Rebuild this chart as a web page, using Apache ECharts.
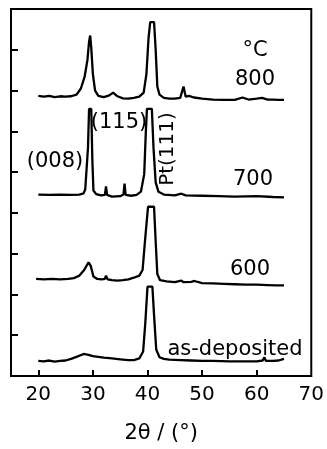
<!DOCTYPE html>
<html>
<head>
<meta charset="utf-8">
<script src="https://cdn.jsdelivr.net/npm/echarts@6/dist/echarts.min.js"></script>
<style>
html,body{margin:0;padding:0;background:#fff;}
#chart{width:327px;height:449px;}
</style>
</head>
<body>
<div id="chart"></div>
<script>
// X-ray diffraction patterns: [2θ (deg), offset intensity (arb. units)]
const curveAsDeposited = [
  [20,0.37],[21,0.36],[22,0.38],[23,0.35],[24,0.37],[25,0.38],[26,0.42],[27,0.47],[28.3,0.54],[29.2,0.52],
  [30,0.49],[31,0.47],[32,0.45],[33.5,0.43],[35,0.41],[36.5,0.39],[37.5,0.39],[38.5,0.43],[39.2,0.6],[39.6,1.3],
  [40.0,2.19],[40.9,2.19],[41.2,1.5],[41.6,0.65],[42.2,0.46],[43,0.42],[44,0.4],[46,0.39],[48,0.38],[50,0.37],
  [52,0.37],[55,0.36],[58,0.36],[60,0.36],[61.1,0.38],[61.4,0.46],[61.7,0.37],[63,0.37],[64,0.38],[65,0.42]
];
const curve600 = [
  [19.6,2.38],[21,2.37],[22.5,2.38],[24,2.37],[25.5,2.38],[26.5,2.4],[27.5,2.46],[28.4,2.6],[29.2,2.79],[29.6,2.7],
  [30.1,2.44],[30.8,2.38],[31.6,2.37],[32.2,2.38],[32.4,2.46],[32.7,2.37],[33.5,2.35],[34.5,2.34],[35.5,2.35],[36.5,2.37],
  [37.5,2.41],[38.5,2.46],[39.1,2.6],[39.6,3.4],[40.1,4.15],[41.2,4.15],[41.5,3.3],[41.8,2.5],[42.3,2.35],[43.5,2.32],
  [45,2.3],[46.2,2.34],[46.6,2.3],[48,2.31],[48.6,2.33],[50,2.28],[52,2.27],[54,2.26],[56,2.25],[58,2.24],
  [60,2.24],[62,2.23],[63.5,2.22],[65,2.22]
];
const curve700 = [
  [20,4.45],[22,4.44],[24,4.45],[26,4.44],[27.5,4.45],[28.3,4.48],[28.6,4.58],[28.9,4.62],[29.1,5.6],[29.3,6.55],
  [29.7,6.55],[29.9,5.3],[30.1,4.55],[30.6,4.46],[31.5,4.43],[32.2,4.44],[32.4,4.65],[32.6,4.44],[33.5,4.4],[35,4.41],
  [35.6,4.45],[35.8,4.72],[36.0,4.44],[37,4.42],[38,4.44],[38.8,4.52],[39.4,4.95],[39.7,6.0],[39.9,6.55],[40.8,6.55],
  [41.1,5.6],[41.5,4.75],[42.0,4.52],[43,4.45],[45,4.43],[46.2,4.47],[47,4.43],[50,4.42],[53,4.41],[56,4.4],
  [60,4.41],[63,4.39],[65,4.38]
];
const curve800 = [
  [20,6.87],[21,6.85],[22,6.87],[23,6.84],[24,6.86],[25,6.85],[26,6.86],[27,6.9],[27.8,7.05],[28.5,7.35],
  [29.0,7.75],[29.3,8.2],[29.5,8.35],[29.7,8.05],[30.0,7.4],[30.4,7.0],[31,6.87],[32,6.84],[33,6.88],[33.7,6.95],
  [34.5,6.86],[35.5,6.81],[36.5,6.8],[37.5,6.82],[38.5,6.85],[39.3,6.95],[39.8,7.4],[40.2,8.3],[40.5,8.68],[41.2,8.68],
  [41.5,8.0],[41.8,7.1],[42.2,6.9],[43,6.82],[44,6.8],[45,6.8],[46,6.82],[46.6,7.1],[47,6.85],[47.6,6.87],
  [48.5,6.83],[50,6.8],[52,6.78],[54,6.77],[56,6.77],[57.4,6.83],[58.5,6.78],[60,6.8],[61,6.82],[62,6.78],
  [63,6.78],[64,6.77],[65,6.77]
];
const xTickValues = [20, 30, 40, 50, 60, 70];
const yTickValues = [1, 2, 3, 4, 5, 6, 7, 8];
const xAxisTitle = '2θ / (°)';
const annotations = [
  {text: '°C', x: 255, y: 51},
  {text: '800', x: 255, y: 80},
  {text: '(115)', x: 119, y: 123},
  {text: '(008)', x: 55, y: 162},
  {text: '700', x: 253, y: 180},
  {text: '600', x: 250, y: 270},
  {text: 'as-deposited', x: 235, y: 350}
];

const FONT = 'DejaVu Sans';
const chart = echarts.init(document.getElementById('chart'), null, {renderer: 'canvas'});

function lineSeries(name, data) {
  return {
    name: name, type: 'line', data: data, showSymbol: false, symbol: 'none',
    smooth: false, lineStyle: {color: '#000', width: 2.3}, silent: true, animation: false, clip: false
  };
}

const graphics = annotations.map(a => ({
  type: 'text', x: a.x, y: a.y, silent: true,
  style: {text: a.text, font: '21px "' + FONT + '"', fill: '#000', align: 'center', verticalAlign: 'middle'}
}));
graphics.push({
  type: 'text', x: 168, y: 149, rotation: Math.PI / 2, silent: true,
  style: {text: 'Pt(111)', font: '20px "' + FONT + '"', fill: '#000', align: 'center', verticalAlign: 'middle'}
});

chart.setOption({
  animation: false,
  backgroundColor: '#fff',
  grid: {left: 11, top: 9, right: 12, bottom: 64, show: true, borderColor: '#000', borderWidth: 2, backgroundColor: 'transparent'},
  xAxis: {
    type: 'value', min: 15, max: 70,
    name: xAxisTitle, nameLocation: 'middle', nameGap: 47,
    nameTextStyle: {fontFamily: FONT, fontSize: 21, color: '#000'},
    axisLine: {show: true, lineStyle: {color: '#000', width: 2}},
    axisTick: {show: true, inside: true, length: 6, lineStyle: {color: '#000', width: 2}, customValues: xTickValues.slice(0, 5)},
    axisLabel: {show: true, fontFamily: FONT, fontSize: 20, color: '#000', margin: 9, customValues: xTickValues, showMaxLabel: true},
    splitLine: {show: false}
  },
  yAxis: {
    type: 'value', min: 0, max: 9,
    axisLine: {show: true, lineStyle: {color: '#000', width: 2}},
    axisTick: {show: true, inside: true, length: 7, lineStyle: {color: '#000', width: 2}, customValues: yTickValues},
    axisLabel: {show: false},
    splitLine: {show: false}
  },
  series: [
    lineSeries('as-deposited', curveAsDeposited),
    lineSeries('600', curve600),
    lineSeries('700', curve700),
    lineSeries('800', curve800)
  ],
  graphic: graphics
});
</script>
</body>
</html>
